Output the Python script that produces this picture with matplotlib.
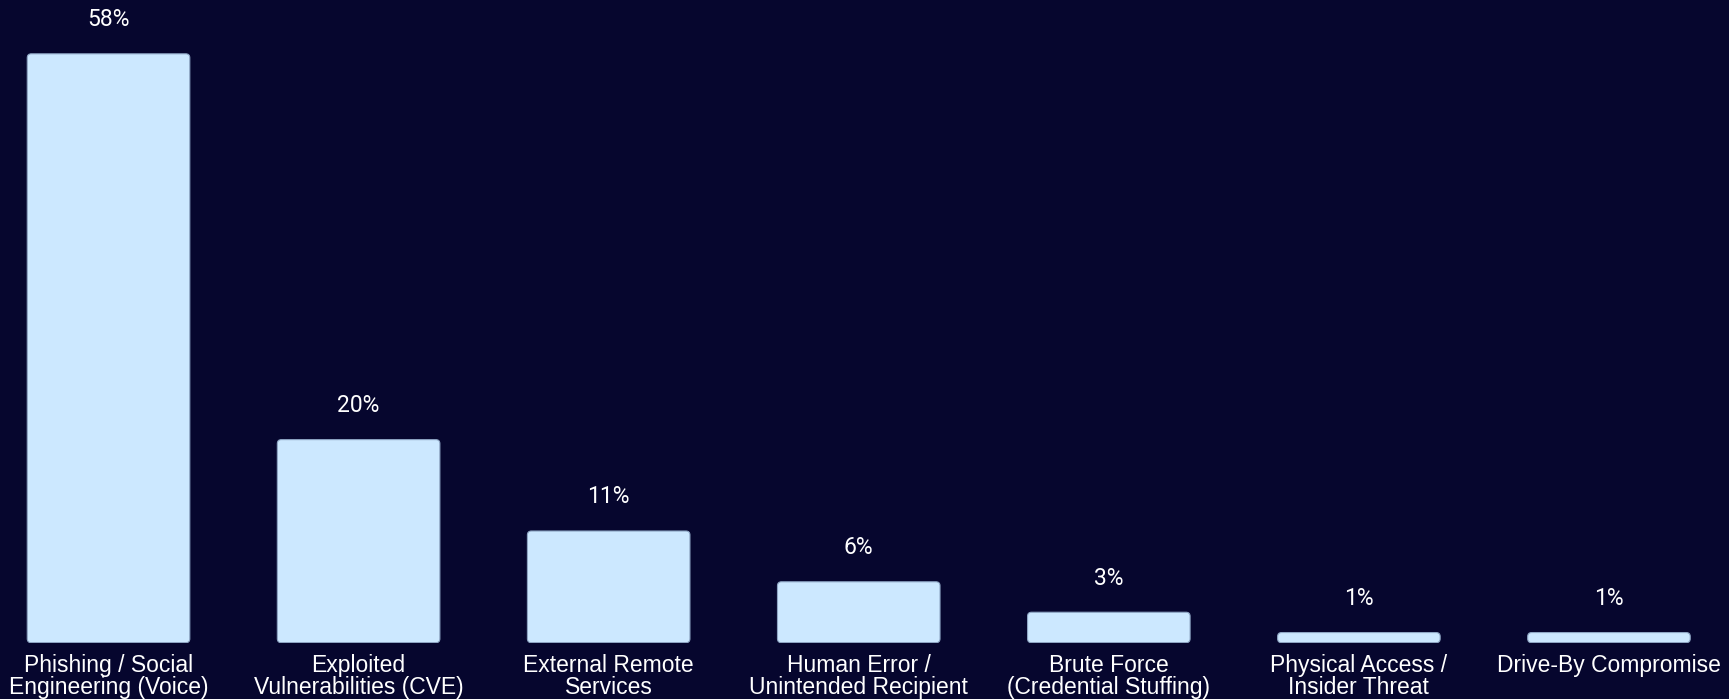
import matplotlib
matplotlib.use("Agg")
import matplotlib.pyplot as plt
from matplotlib.patches import FancyBboxPatch

# data
categories = ["Phishing / Social\nEngineering (Voice)", "Exploited\nVulnerabilities (CVE)",
              "External Remote\nServices", "Human Error /\nUnintended Recipient",
              "Brute Force\n(Credential Stuffing)", "Physical Access /\nInsider Threat",
              "Drive-By Compromise"]
shares = [58, 20, 11, 6, 3, 1, 1]
labels = ["58%", "20%", "11%", "6%", "3%", "1%", "1%"]

BG = "#06062e"
BAR = "#cce8ff"

W, H = 1729, 699
fig = plt.figure(figsize=(W / 100, H / 100), dpi=100, facecolor=BG)
ax = fig.add_axes([0, 56.3 / H, 1, 642.7 / H], facecolor=BG)

x = list(range(len(shares)))
bars = ax.bar(x, shares, width=0.65, color=BAR)

ax.set_xlim(-0.434, 6.48)
ax.set_ylim(0, 63.3)

# swap plain rectangles for slightly rounded ones
for b in bars:
    b.set_visible(False)
    p = FancyBboxPatch((b.get_x(), b.get_y()), b.get_width(), b.get_height(),
                       boxstyle="round,pad=0,rounding_size=0.016",
                       mutation_aspect=24.6, facecolor=BAR,
                       edgecolor="#8ea6c4", linewidth=0.8)
    ax.add_patch(p)

for xi, v, t in zip(x, shares, labels):
    ax.annotate(t, (xi, v), xytext=(0, 24.5), textcoords="offset points",
                ha="center", va="center", color="#ffffff", fontsize=16.5,
                family="Roboto")

ax.set_xticks(x)
ax.set_xticklabels(categories, fontsize=16.5, color="#ffffff",
                   family="Liberation Sans", linespacing=0.95)
ax.tick_params(axis="x", length=0, pad=8)
ax.set_yticks([])
for s in ax.spines.values():
    s.set_visible(False)

fig.savefig("out.png", dpi=100, facecolor=BG)
